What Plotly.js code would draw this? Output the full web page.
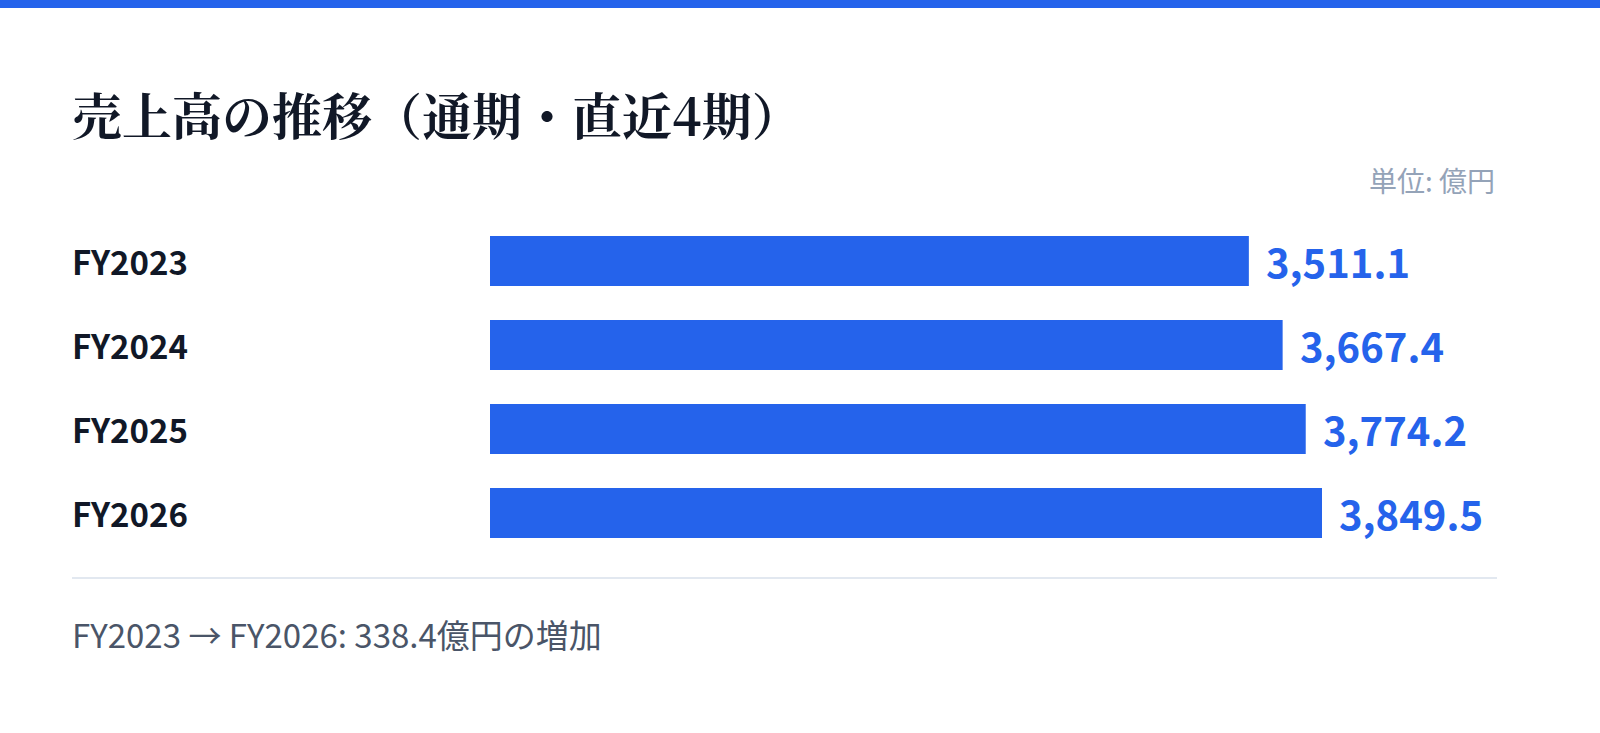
<!DOCTYPE html>
<html><head><meta charset="utf-8">
<script src="https://cdn.plot.ly/plotly-3.0.1.min.js"></script>
<style>html,body{margin:0;padding:0;background:#fff;}#chart{width:1600px;height:733px;}</style>
</head><body><div id="chart"></div>
<script>
const categories = ["FY2023", "FY2024", "FY2025", "FY2026"];
const sales = [3511.1, 3667.4, 3774.2, 3849.5];
const valueLabels = ["3,511.1", "3,667.4", "3,774.2", "3,849.5"];
const titleText = "売上高の推移（通期・直近4期）";
const unitText = "単位: 億円";
const footerText = "FY2023 → FY2026: 338.4億円の増加";

const W = 1600, H = 733;
const M = {l: 490, r: 103, t: 219, b: 178};
const PW = W - M.l - M.r, PH = H - M.t - M.b;
const px = x => (x - M.l) / PW;
const py = y => (H - M.b - y) / PH;
const sans = '"Noto Sans CJK JP", "Noto Sans", sans-serif';
const serif = '"Noto Serif CJK JP", "Noto Sans CJK JP", serif';

const annotations = [
  {text: titleText, xref: 'paper', yref: 'paper', x: px(70), y: py(113), xanchor: 'left', yanchor: 'middle', showarrow: false,
   font: {family: serif, size: 50, color: '#111827', weight: 700}},
  {text: unitText, xref: 'paper', yref: 'paper', x: 1, y: py(180), xanchor: 'right', yanchor: 'middle', showarrow: false,
   font: {family: sans, size: 28, color: '#94a3b8'}},
  {text: footerText, xref: 'paper', yref: 'paper', x: px(70), y: py(634), xanchor: 'left', yanchor: 'middle', showarrow: false,
   font: {family: sans, size: 33, color: '#4a5568'}}
];
categories.forEach((c, i) => {
  annotations.push({text: c, xref: 'paper', yref: 'y', x: px(70), y: c, xanchor: 'left', yanchor: 'middle', showarrow: false,
    font: {family: sans, size: 33, color: '#111827', weight: 700}});
  annotations.push({text: valueLabels[i], xref: 'x', yref: 'y', x: sales[i], y: c, xanchor: 'left', yanchor: 'middle', showarrow: false,
    xshift: 15, font: {family: sans, size: 40, color: '#2563eb', weight: 700}});
});

const data = [{
  type: 'bar', orientation: 'h', x: sales, y: categories,
  marker: {color: '#2563eb'}, hoverinfo: 'none'
}];

const layout = {
  width: W, height: H,
  margin: {l: M.l, r: M.r, t: M.t, b: M.b, pad: 0},
  paper_bgcolor: '#ffffff', plot_bgcolor: '#ffffff',
  showlegend: false,
  bargap: 34/84,
  xaxis: {range: [0, PW / (832 / 3849.5)], visible: false, fixedrange: true},
  yaxis: {autorange: 'reversed', visible: false, fixedrange: true, type: 'category'},
  annotations: annotations,
  shapes: [
    {type: 'rect', xref: 'paper', yref: 'paper', x0: px(0), x1: px(W), y0: py(8), y1: py(0), fillcolor: '#2563eb', line: {width: 0}},
    {type: 'line', xref: 'paper', yref: 'paper', x0: px(72), x1: 1, y0: py(578), y1: py(578), line: {color: '#e2e8f0', width: 2}}
  ]
};

Plotly.newPlot('chart', data, layout, {displayModeBar: false, staticPlot: true});
</script>
</body></html>
